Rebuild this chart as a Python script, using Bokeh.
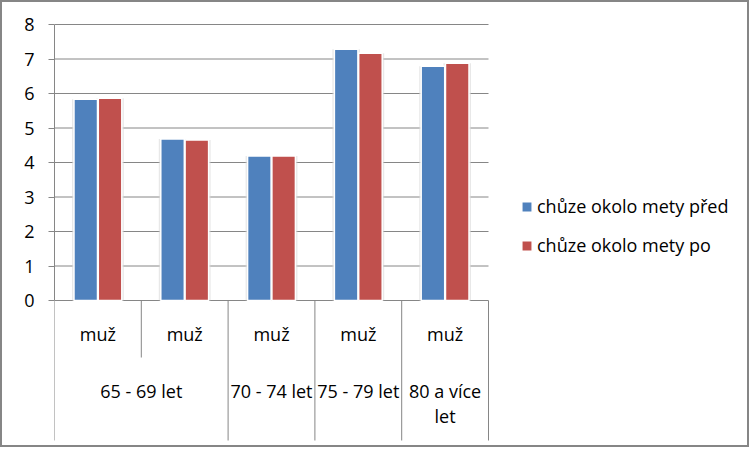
from bokeh.plotting import figure
from bokeh.models import ColumnDataSource, Legend, LegendItem, FixedTicker, Range1d
from bokeh.transform import dodge
from bokeh.core.properties import value
from bokeh.embed import file_html
from bokeh.resources import INLINE

# ---- data ----
categories = ["muž", "muž", "muž", "muž", "muž"]
group_labels = ["65 - 69 let", "70 - 74 let", "75 - 79 let", "80 a více\nlet"]
group_sizes = [2, 1, 1, 1]
series_names = ["chůze okolo mety před", "chůze okolo mety po"]
before = [5.83, 4.68, 4.19, 7.28, 6.79]
after = [5.86, 4.65, 4.19, 7.17, 6.88]
y_ticks = [0, 1, 2, 3, 4, 5, 6, 7, 8]

FONT = "Open Sans"
FS = "18px"
GREY = "#868686"
BLUE = "#4F81BD"
RED = "#C0504D"

px_per_unit = 34.5   # vertical scale (px per value unit)
cat_px = 86.8        # horizontal px per category

def v(py):  # window pixel row -> value
    return (300 - py) / px_per_unit

n = len(categories)
xs = [i + 0.5 for i in range(n)]
src = ColumnDataSource(dict(x=xs, cat=categories, before=before, after=after))

p = figure(width=749, height=447,
           x_range=Range1d(0, (751 - 54) / cat_px), y_range=Range1d(v(449), v(2)),
           x_axis_location=None,
           output_backend="svg", toolbar_location=None,
           min_border_left=52, min_border_right=0,
           min_border_top=0, min_border_bottom=0,
           outline_line_color=None,
           background_fill_color="white", border_fill_color="white",
           styles={"border": "2px solid #868686"})

ticker = FixedTicker(ticks=y_ticks, minor_ticks=[])
ax = p.yaxis[0]
ax.ticker = ticker
ax.bounds = (0, 8)
ax.axis_line_color = GREY
ax.major_tick_line_color = GREY
ax.major_tick_in = 0
ax.major_tick_out = 6
ax.minor_tick_line_color = None
ax.major_label_standoff = 14
ax.major_label_text_font = FONT
ax.major_label_text_font_size = FS
ax.major_label_text_color = "black"

for g in p.grid:
    g.visible = False

# horizontal gridlines across the category area only
p.segment(x0=[0] * len(y_ticks), y0=y_ticks, x1=[n] * len(y_ticks), y1=y_ticks,
          line_color=GREY, line_width=1)

bw = 0.271
off = 0.14
shadow_w = bw + 4 / cat_px

# shadows
p.vbar(x=dodge("x", -off, range=p.x_range), top="before", width=shadow_w, bottom=0,
       source=src, fill_color="#d9d9d9", fill_alpha=0.6, line_color=None)
p.vbar(x=dodge("x", off, range=p.x_range), top="after", width=shadow_w, bottom=0,
       source=src, fill_color="#d9d9d9", fill_alpha=0.6, line_color=None)

r1 = p.vbar(x=dodge("x", -off, range=p.x_range), top="before", width=bw, bottom=0,
            source=src, fill_color=BLUE, line_color="white", line_width=1.5)
r2 = p.vbar(x=dodge("x", off, range=p.x_range), top="after", width=bw, bottom=0,
            source=src, fill_color=RED, line_color="white", line_width=1.5)

# category axis (two levels) drawn as glyphs
p.text(x="x", y=v(333), text="cat", source=src,
       text_font=value(FONT), text_font_size=FS, text_color="black",
       text_align="center", text_baseline="middle")

g_centers = []
g_bounds = [0]
start = 0
for s in group_sizes:
    g_centers.append(start + s / 2)
    start += s
    g_bounds.append(start)
p.text(x=g_centers, y=[v(378)] * len(g_centers), text=group_labels,
       text_font=value(FONT), text_font_size=FS, text_color="black",
       text_align="center", text_baseline="top", text_line_height=1.06)

inner = [i for i in range(1, n) if i not in g_bounds]
p.segment(x0=g_bounds, y0=[0] * len(g_bounds), x1=g_bounds, y1=[v(440)] * len(g_bounds),
          line_color=GREY, line_width=1)
p.segment(x0=inner, y0=[0] * len(inner), x1=inner, y1=[v(357)] * len(inner),
          line_color=GREY, line_width=1)

legend = Legend(items=[LegendItem(label=series_names[0], renderers=[r1]),
                       LegendItem(label=series_names[1], renderers=[r2])],
                location=(466, 192), orientation="vertical",
                glyph_width=13, glyph_height=13, label_standoff=4,
                label_text_font=FONT, label_text_font_size=FS,
                label_text_color="black", label_height=20, spacing=15,
                padding=0, margin=0, border_line_color=None,
                background_fill_alpha=0)
p.add_layout(legend, "center")

open("out.html", "w").write(file_html(p, INLINE))
